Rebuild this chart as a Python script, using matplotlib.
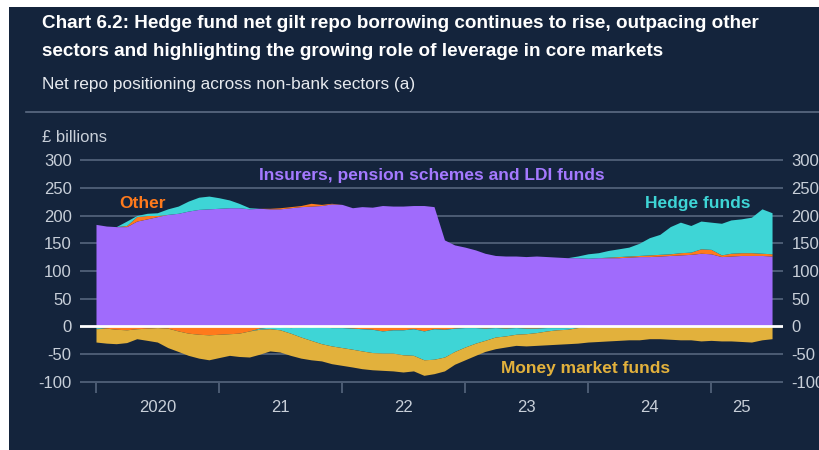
import numpy as np
import pandas as pd
import matplotlib
matplotlib.use("Agg")
import matplotlib.pyplot as plt
from matplotlib.patches import Rectangle

plt.rcParams['font.family'] = ['Liberation Sans', 'DejaVu Sans']

# monthly points, Jan 2020 to Jul 2025 (£ billions)
dates = pd.date_range('2020-01-01', periods=67, freq='MS')

ldi = [184, 181, 180, 180, 190, 194, 198, 202, 204, 208, 211, 212,
       213, 214, 214, 212, 213, 212, 212, 214, 216, 217, 218, 221,
       220, 214, 216, 215, 218, 217, 217, 218, 218, 216, 156, 147,
       143, 138, 132, 128, 127, 127, 126, 127, 126, 125, 124, 124,
       123, 124, 124, 124, 125, 126, 126, 127, 128, 129, 130, 132,
       131, 126, 127, 128, 128, 128, 127]
other_up = [0, 0, 0, 2, 8, 6, 2, 0, 0, 0, 0, 0,
            0, 0, 0, 0, 0, 1, 2, 2, 2, 5, 2, 1,
            0, 0, 0, 0, 0, 0, 0, 0, 0, 0, 0, 0,
            0, 0, 0, 0, 0, 0, 0, 0, 0, 0, 0, 0,
            0, 0, 1, 2, 2, 2, 3, 3, 3, 4, 4, 8,
            8, 3, 5, 5, 5, 4, 4]
hedge_up = [0, 0, 0, 8, 2, 4, 5, 10, 13, 18, 22, 23,
            19, 14, 8, 2, 0, 0, 0, 0, 0, 0, 0, 0,
            0, 0, 0, 0, 0, 0, 0, 0, 0, 0, 0, 0,
            0, 0, 0, 0, 0, 0, 0, 0, 0, 0, 0, 3,
            8, 9, 12, 14, 16, 22, 31, 36, 49, 55, 48, 50,
            49, 57, 60, 61, 64, 80, 74]
other_down = [-2, -3, -5, -6, -4, -3, -2, -3, -8, -12, -14, -15,
              -14, -13, -12, -8, -3, -1, 0, -2, -1, 0, -1, -2,
              -2, -3, -4, -5, -8, -6, -6, -4, -8, -4, -5, -3,
              -2, -2, -3, -2, -3, -2, -3, -3, -2, -2, -2, -1,
              0, 0, 0, 0, 0, 0, 0, 0, 0, 0, 0, 0,
              0, 0, 0, 0, 0, 0, 0]
hedge_down = [-2, 0, 0, 0, 0, 0, 0, 0, 0, 0, 0, 0,
              0, 0, 0, 0, -2, -3, -6, -10, -18, -25, -30, -33,
              -36, -38, -40, -42, -40, -42, -45, -48, -52, -55, -50, -42,
              -35, -28, -22, -17, -14, -12, -10, -8, -6, -4, -3, -1,
              0, 0, 0, 0, 0, 0, 0, 0, 0, 0, 0, 0,
              0, 0, 0, 0, 0, 0, 0]
mmf = [-24, -27, -26, -23, -18, -22, -26, -35, -37, -40, -43, -45,
       -42, -39, -42, -47, -45, -40, -40, -40, -38, -35, -31, -32,
       -32, -32, -32, -31, -31, -32, -31, -28, -28, -26, -25, -23,
       -23, -22, -20, -21, -20, -20, -22, -23, -25, -26, -26, -28,
       -28, -27, -26, -25, -24, -24, -22, -22, -23, -24, -24, -26,
       -25, -26, -26, -27, -28, -24, -22]

year_ticks = [2020, 2021, 2022, 2023, 2024, 2025]
year_labels = ['2020', '21', '22', '23', '24', '25']
yticks = [-100, -50, 0, 50, 100, 150, 200, 250, 300]

# colours
bg = '#14243c'
c_ldi = '#a06bfc'
c_other = '#ff7a1c'
c_hedge = '#3ed5d6'
c_mmf = '#e2b13c'
grid_c = '#56667d'
txt_c = '#c8cfd9'

# decimal years for the x axis
x = np.array([d.year + (d.dayofyear - 1) / 365.0 for d in dates])

fig = plt.figure(figsize=(8.2, 4.5), dpi=100, facecolor='white')
fig.add_artist(Rectangle((9 / 820, 0), 1, 1 - 7 / 450, transform=fig.transFigure,
                         facecolor=bg, edgecolor='none', zorder=-10))

# titles
fig.text(42 / 820, 1 - 24 / 450, 'Chart 6.2: Hedge fund net gilt repo borrowing continues to rise, outpacing other',
         color='white', fontsize=13.6, fontweight='bold', va='center', ha='left')
fig.text(42 / 820, 1 - 51 / 450, 'sectors and highlighting the growing role of leverage in core markets',
         color='white', fontsize=13.6, fontweight='bold', va='center', ha='left')
fig.text(42 / 820, 1 - 84 / 450, 'Net repo positioning across non-bank sectors (a)',
         color='#e6e9ee', fontsize=12.4, va='center', ha='left')
fig.add_artist(plt.Line2D([26 / 820, 1], [1 - 112 / 450] * 2, transform=fig.transFigure,
                          color='#5d6c84', lw=1.2))
fig.text(42 / 820, 1 - 138 / 450, '£ billions', color=txt_c, fontsize=12, va='center', ha='left')

ax = fig.add_axes([80 / 820, 1 - 383.1 / 450, 703 / 820, 224.2 / 450])
ax.set_facecolor('none')
ax.set_xlim(2019.870, 2025.585)
ax.set_ylim(-102, 302)

for yv in yticks:
    if yv != 0:
        ax.axhline(yv, color=grid_c, lw=1.2, zorder=1)

# positive stack
p1 = np.array(ldi, dtype=float)
p2 = p1 + np.array(other_up)
p3 = p2 + np.array(hedge_up)
ax.fill_between(x, 0, p1, color=c_ldi, lw=0, zorder=2)
ax.fill_between(x, p1, p2, color=c_other, lw=0, zorder=2)
ax.fill_between(x, p2, p3, color=c_hedge, lw=0, zorder=2)

# negative stack
n1 = np.array(other_down, dtype=float)
n2 = n1 + np.array(hedge_down)
n3 = n2 + np.array(mmf)
ax.fill_between(x, 0, n1, color=c_other, lw=0, zorder=2)
ax.fill_between(x, n1, n2, color=c_hedge, lw=0, zorder=2)
ax.fill_between(x, n2, n3, color=c_mmf, lw=0, zorder=2)

ax.axhline(0, color='white', lw=2, zorder=3)

# labels on chart
ax.text(2022.73, 272, 'Insurers, pension schemes and LDI funds', color='#a479ff',
        fontsize=12.5, fontweight='bold', ha='center', va='center')
ax.text(2020.38, 222, 'Other', color=c_other, fontsize=12.5, fontweight='bold', ha='center', va='center')
ax.text(2024.89, 222, 'Hedge funds', color=c_hedge, fontsize=12.5, fontweight='bold', ha='center', va='center')
ax.text(2023.98, -76, 'Money market funds', color=c_mmf, fontsize=12.5, fontweight='bold', ha='center', va='center')

for s in ax.spines.values():
    s.set_visible(False)

ax.set_yticks(yticks)
ax.set_yticklabels([str(v) for v in yticks])
ax.tick_params(axis='y', length=0, labelsize=12, labelcolor=txt_c, pad=3,
               labelleft=True, labelright=True)

ax.set_xticks(year_ticks)
ax.set_xticklabels([])
ax.tick_params(axis='x', which='major', length=7, width=1.2, color=grid_c, direction='out')
mids = [2020.5, 2021.5, 2022.5, 2023.5, 2024.5, 2025.25]
ax.set_xticks(mids, minor=True)
ax.set_xticklabels(year_labels, minor=True)
ax.tick_params(axis='x', which='minor', length=0, pad=12, labelsize=12, labelcolor=txt_c)

# right-hand labels sit a little further out
ax.yaxis.set_tick_params(which='major', pad=6)
for t in ax.yaxis.get_major_ticks():
    t.label1.set_x(0 - 0 / 703)

fig.savefig('out.png', dpi=100, facecolor=fig.get_facecolor())
